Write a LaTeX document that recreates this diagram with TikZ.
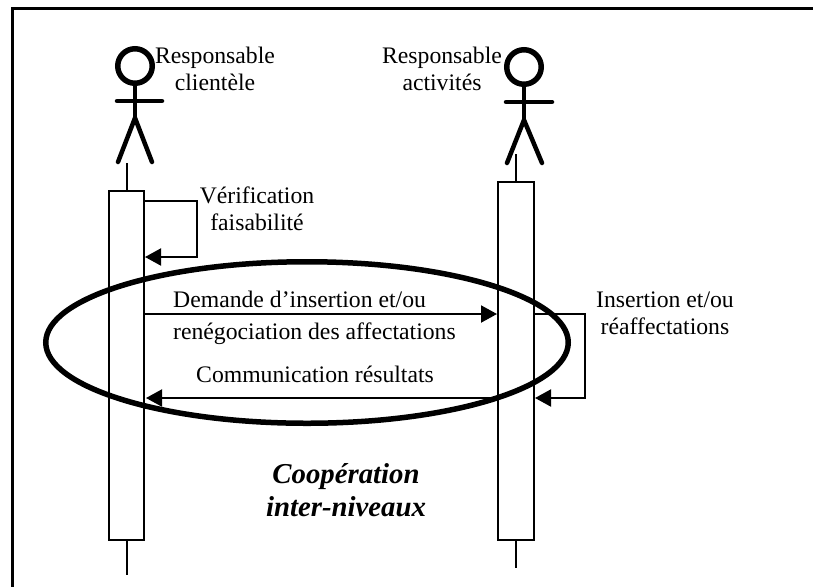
\documentclass[tikz,border=0pt]{standalone}
\usepackage{fontspec}
\setmainfont{Liberation Serif}
\usetikzlibrary{arrows.meta}
\usetikzlibrary{shapes.geometric}
\tikzset{
    limb/.style={line width=4.5pt, line cap=round},
    head/.style={circle, draw, line width=5.5pt, minimum size=34.5pt, inner sep=0pt},
    lifeline/.style={line width=2pt},
    activation/.style={draw, fill=white, line width=2pt, inner sep=0pt},
    msg/.style={line width=2pt, -{Triangle[length=16pt,width=17pt]}},
    label/.style={font=\fontsize{23.7}{27}\selectfont, align=center, inner sep=0pt},
}

\begin{document}
\begin{tikzpicture}[x=1pt, y=-1pt]
        \useasboundingbox (0, 0) rectangle (813, 587);
        % frame
        \draw (813, 8.7) coordinate(frameright);
        \draw (12.7, 8.7) coordinate(framecorner);
        \draw (12.7, 587) coordinate(framebottom);
        \draw[line width=3.4pt] (frameright) -- (framecorner) -- (framebottom);

        % first actor
        \draw (135, 66) node(head1)[head]{};
        \draw (135, 118) coordinate(hip1);
        \draw (117, 101) coordinate(arm1a);
        \draw (162, 101) coordinate(arm1b);
        \draw (118, 162) coordinate(leg1a);
        \draw (152, 162) coordinate(leg1b);
        \draw[limb] (head1) -- (hip1);
        \draw[limb] (arm1a) -- (arm1b);
        \draw[limb] (leg1a) -- (hip1) -- (leg1b);

        % second actor
        \draw (524, 67) node(head2)[head]{};
        \draw (524, 120) coordinate(hip2);
        \draw (506, 102) coordinate(arm2a);
        \draw (552, 102) coordinate(arm2b);
        \draw (507, 163) coordinate(leg2a);
        \draw (542, 163) coordinate(leg2b);
        \draw[limb] (head2) -- (hip2);
        \draw[limb] (arm2a) -- (arm2b);
        \draw[limb] (leg2a) -- (hip2) -- (leg2b);

        % lifelines
        \draw (127, 163) coordinate(top1);
        \draw (127, 575) coordinate(bottom1);
        \draw (516, 154) coordinate(top2);
        \draw (516, 568) coordinate(bottom2);
        \draw[lifeline] (top1) -- (bottom1);
        \draw[lifeline] (top2) -- (bottom2);
        \draw (126.5, 365.5) node(box1)[activation, minimum width=35pt, minimum height=349pt]{};
        \draw (516, 361) node(box2)[activation, minimum width=36pt, minimum height=358pt]{};

        % messages
        \draw (144, 201) coordinate(self1a);
        \draw (197, 201) coordinate(self1b);
        \draw (197, 257) coordinate(self1c);
        \draw (145, 257) coordinate(self1d);
        \draw[msg] (self1a) -- (self1b) -- (self1c) -- (self1d);
        \draw (144, 314) coordinate(ask1);
        \draw (497, 314) coordinate(ask2);
        \draw[msg] (ask1) -- (ask2);
        \draw (534, 314) coordinate(self2a);
        \draw (585, 314) coordinate(self2b);
        \draw (585, 398) coordinate(self2c);
        \draw (535, 398) coordinate(self2d);
        \draw[msg] (self2a) -- (self2b) -- (self2c) -- (self2d);
        \draw (498, 398) coordinate(reply2);
        \draw (146, 398) coordinate(reply1);
        \draw[msg] (reply2) -- (reply1);

        \draw (307, 342.5) node(cooperation)[ellipse, draw, line width=5.5pt, minimum width=522.5pt, minimum height=161.5pt, inner sep=0pt]{};

        % labels
        \draw (215, 68.5) node(actor1)[label]{Responsable\\clientèle};
        \draw (442, 68.5) node(actor2)[label]{Responsable\\activités};
        \draw (257, 209) node(check)[label]{Vérification\\faisabilité};
        \draw (173, 307) node(ask)[label, anchor=base west]{Demande d’insertion et/ou};
        \draw (173, 339) node(renego)[label, anchor=base west]{renégociation des affectations};
        \draw (196, 382) node(reply)[label, anchor=base west]{Communication résultats};
        \draw (665, 313) node(insert)[label]{Insertion et/ou\\réaffectations};
        \draw (346, 490) node(level)[font=\fontsize{28.8}{33}\selectfont\bfseries\itshape, align=center, inner sep=0pt]{Coopération\\inter-niveaux};
    \end{tikzpicture}
\end{document}
